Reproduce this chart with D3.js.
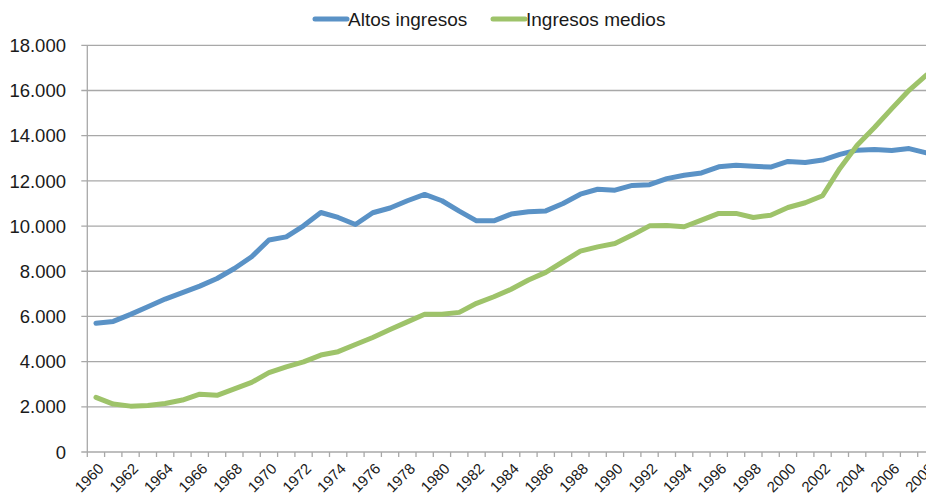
<!DOCTYPE html>
<html>
<head>
<meta charset="utf-8">
<script src="https://d3js.org/d3.v7.min.js"></script>
<style>
  body { margin: 0; background: #fff; }
  svg { display: block; font-family: "Liberation Sans", Arial, sans-serif; }
</style>
</head>
<body>
<svg id="chart" width="926" height="498"></svg>
<script>
var years = d3.range(1960, 2009);

var altos = [5700, 5780, 6090, 6430, 6770, 7050, 7340, 7680, 8120, 8640,
  9380, 9520, 10010, 10600, 10380, 10070, 10590, 10800, 11120, 11400,
  11120, 10660, 10230, 10230, 10530, 10630, 10670, 11000, 11410, 11630,
  11590, 11800, 11830, 12100, 12250, 12350, 12620, 12690, 12650, 12610,
  12860, 12810, 12920, 13170, 13360, 13390, 13340, 13430, 13240];

var medios = [2420, 2120, 2030, 2060, 2150, 2300, 2560, 2510, 2790, 3080,
  3510, 3770, 3990, 4290, 4440, 4760, 5070, 5420, 5760, 6100,
  6100, 6180, 6580, 6870, 7200, 7610, 7950, 8420, 8890, 9080,
  9230, 9600, 10010, 10020, 9970, 10260, 10560, 10560, 10380, 10480,
  10820, 11030, 11340, 12550, 13580, 14360, 15200, 16010, 16680];

var seriesNames = ["Altos ingresos", "Ingresos medios"];
var colors = ["#5a92c6", "#9ec36a"];
var yTicks = d3.range(0, 18001, 2000);

var svg = d3.select("#chart"),
    plotL = 87.3, plotR = 935, plotT = 45.3, plotB = 452;

var x = d3.scaleBand().domain(years).range([plotL, plotR]).padding(0),
    y = d3.scaleLinear().domain([0, 18000]).range([plotB, plotT]);

var fmt = d3.formatLocale({decimal: ",", thousands: ".", grouping: [3], currency: ["", "€"]}).format(",d");

// gridlines
svg.append("g").selectAll("line")
    .data(yTicks)
  .enter().append("line")
    .attr("x1", plotL - 6).attr("x2", plotR)
    .attr("y1", function(d) { return y(d); })
    .attr("y2", function(d) { return y(d); })
    .attr("stroke", "#a8a8a8")
    .attr("stroke-width", 1.3);

// y labels
svg.append("g").selectAll("text")
    .data(yTicks)
  .enter().append("text")
    .attr("x", 66)
    .attr("y", function(d) { return y(d); })
    .attr("dy", "0.36em")
    .attr("text-anchor", "end")
    .attr("font-size", 18.5)
    .attr("fill", "#1a1a1a")
    .text(function(d) { return fmt(d); });

// y axis line
svg.append("line")
    .attr("x1", plotL).attr("x2", plotL)
    .attr("y1", plotT).attr("y2", plotB)
    .attr("stroke", "#a8a8a8").attr("stroke-width", 1.3);

// x ticks at category boundaries
svg.append("g").selectAll("line")
    .data(years.concat([null]))
  .enter().append("line")
    .attr("x1", function(d) { return d === null ? plotR : x(d); })
    .attr("x2", function(d) { return d === null ? plotR : x(d); })
    .attr("y1", plotB).attr("y2", plotB + 5)
    .attr("stroke", "#a8a8a8").attr("stroke-width", 1.3);

// x labels, every other year
svg.append("g").selectAll("text")
    .data(years.filter(function(d) { return d % 2 === 0; }))
  .enter().append("text")
    .attr("transform", function(d) {
      return "translate(" + (x(d) + x.bandwidth() / 2 + 5) + "," + (plotB + 14) + ") rotate(-45)";
    })
    .attr("text-anchor", "end")
    .attr("dy", "0.35em")
    .attr("font-size", 15)
    .attr("fill", "#1a1a1a")
    .text(function(d) { return d; });

// lines
var line = d3.line()
    .x(function(d, i) { return x(years[i]) + x.bandwidth() / 2; })
    .y(function(d) { return y(d); });

[altos, medios].forEach(function(s, i) {
  svg.append("path")
      .datum(s)
      .attr("fill", "none")
      .attr("stroke", colors[i])
      .attr("stroke-width", 5)
      .attr("stroke-linejoin", "round")
      .attr("stroke-linecap", "round")
      .attr("d", line);
});

// legend
var legendX = [315, 493];
var lg = svg.append("g").selectAll("g")
    .data(seriesNames)
  .enter().append("g")
    .attr("transform", function(d, i) { return "translate(" + legendX[i] + ",19)"; });

lg.append("line")
    .attr("x1", 0).attr("x2", 32)
    .attr("stroke", function(d, i) { return colors[i]; })
    .attr("stroke-width", 5)
    .attr("stroke-linecap", "round");

lg.append("text")
    .attr("x", 33)
    .attr("dy", "0.36em")
    .attr("font-size", 19)
    .attr("fill", "#1a1a1a")
    .text(function(d) { return d; });
</script>
</body>
</html>
